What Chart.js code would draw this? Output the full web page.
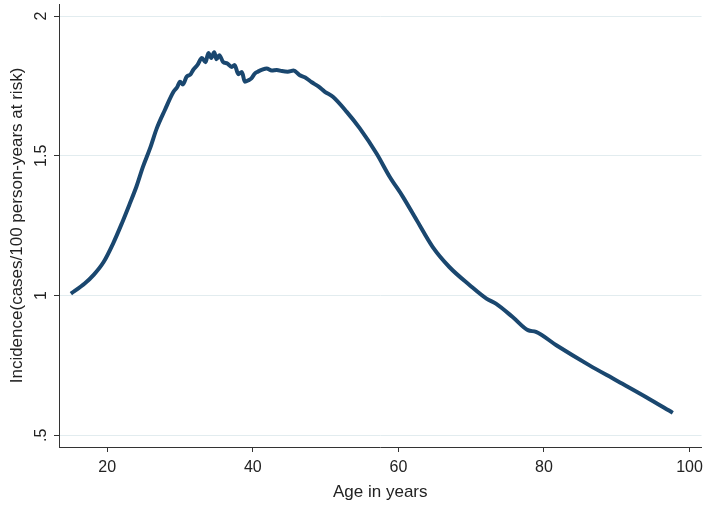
<!DOCTYPE html>
<html>
<head>
<meta charset="utf-8">
<script src="https://cdn.jsdelivr.net/npm/chart.js@4"></script>
<style>
  body { margin: 0; background: #fff; }
  .wrap { width: 709px; height: 508px; }
</style>
</head>
<body>
<div class="wrap"><canvas id="chart" width="709" height="508"></canvas></div>
<script>
// data
const ages = [15.0, 16.9, 18.1, 19.5, 20.8, 22.0, 23.1, 24.0, 24.9, 25.9, 26.8, 27.9, 29.1, 29.6, 30.0, 30.4,
  30.9, 31.4, 31.8, 32.4, 33.0, 33.5, 33.9, 34.3, 34.7, 35.0, 35.4, 35.9, 36.5, 37.1, 37.5, 38.0, 38.5,
  38.9, 39.4, 39.8, 40.3, 40.7, 41.3, 41.9, 42.6, 43.3, 44.0, 44.8, 45.6, 46.4, 47.2, 48.1, 49.0, 49.9,
  51.0, 52.9, 54.7, 57.0, 58.8, 60.6, 62.5, 64.7, 67.0, 69.8, 72.1, 73.4, 75.7, 77.8, 78.9, 81.7, 86.2,
  89.9, 94.0, 97.7];
const incidence = [1.007, 1.043, 1.073, 1.120, 1.186, 1.258, 1.329, 1.389, 1.460, 1.528, 1.598, 1.663, 1.729,
  1.745, 1.765, 1.755, 1.783, 1.790, 1.807, 1.825, 1.850, 1.835, 1.868, 1.850, 1.870, 1.845, 1.860,
  1.836, 1.830, 1.818, 1.825, 1.792, 1.800, 1.765, 1.770, 1.777, 1.795, 1.801, 1.808, 1.812, 1.805,
  1.807, 1.803, 1.801, 1.805, 1.789, 1.780, 1.763, 1.748, 1.729, 1.711, 1.657, 1.598, 1.508, 1.425,
  1.354, 1.270, 1.174, 1.102, 1.037, 0.989, 0.971, 0.923, 0.876, 0.870, 0.822, 0.751, 0.697, 0.637, 0.580];
const xTicks = [20, 40, 60, 80, 100];
const yTicks = [0.5, 1, 1.5, 2];
const yTickLabels = ['.5', '1', '1.5', '2'];

const FONT = '"Liberation Sans", Arial, sans-serif';
const AXIS = '#333333';

// y tick labels are turned on their side, so draw them by hand
const sideLabels = {
  id: 'sideLabels',
  afterDraw(chart) {
    const ctx = chart.ctx;
    const y = chart.scales.y;
    ctx.save();
    ctx.fillStyle = '#222';
    ctx.font = '16px ' + FONT;
    ctx.textAlign = 'center';
    ctx.textBaseline = 'alphabetic';
    yTicks.forEach((v, i) => {
      ctx.save();
      ctx.translate(y.right - 13, y.getPixelForValue(v));
      ctx.rotate(-Math.PI / 2);
      ctx.fillText(yTickLabels[i], 0, 0);
      ctx.restore();
    });
    ctx.restore();
  }
};

new Chart(document.getElementById('chart'), {
  type: 'line',
  data: {
    datasets: [{
      data: ages.map((a, i) => ({x: a, y: incidence[i]})),
      borderColor: '#1a476f',
      borderWidth: 4,
      pointRadius: 0,
      cubicInterpolationMode: 'monotone',
      fill: false,
    }]
  },
  options: {
    responsive: false,
    animation: false,
    layout: { padding: { top: 4, right: 7, left: 0, bottom: 0 } },
    plugins: { legend: { display: false }, tooltip: { enabled: false } },
    scales: {
      x: {
        type: 'linear',
        min: 13.37,
        max: 101.65,
        afterBuildTicks: s => { s.ticks = xTicks.map(v => ({value: v})); },
        afterFit: s => { s.height = 61; },
        border: { display: true, color: AXIS, width: 1 },
        grid: { drawOnChartArea: false, drawTicks: true, tickLength: 5, tickColor: AXIS },
        ticks: { color: '#222', font: { family: FONT, size: 16 }, padding: 6, maxRotation: 0 },
        title: {
          display: true, text: 'Age in years', color: '#222',
          font: { family: FONT, size: 17 }, padding: { top: 0, bottom: 5 }
        }
      },
      y: {
        min: 0.458,
        max: 2.043,
        afterBuildTicks: s => { s.ticks = yTicks.map(v => ({value: v})); },
        afterFit: s => { s.width = 59; },
        border: { display: true, color: AXIS, width: 1 },
        grid: { color: '#e2ecef', lineWidth: 1, drawTicks: true, tickLength: 5, tickColor: AXIS },
        ticks: { display: false },
        title: {
          display: true, text: 'Incidence(cases/100 person-years at risk)', color: '#222',
          font: { family: FONT, size: 17 }, padding: { top: 7, bottom: 0 }
        }
      }
    }
  },
  plugins: [sideLabels]
});
</script>
</body>
</html>
